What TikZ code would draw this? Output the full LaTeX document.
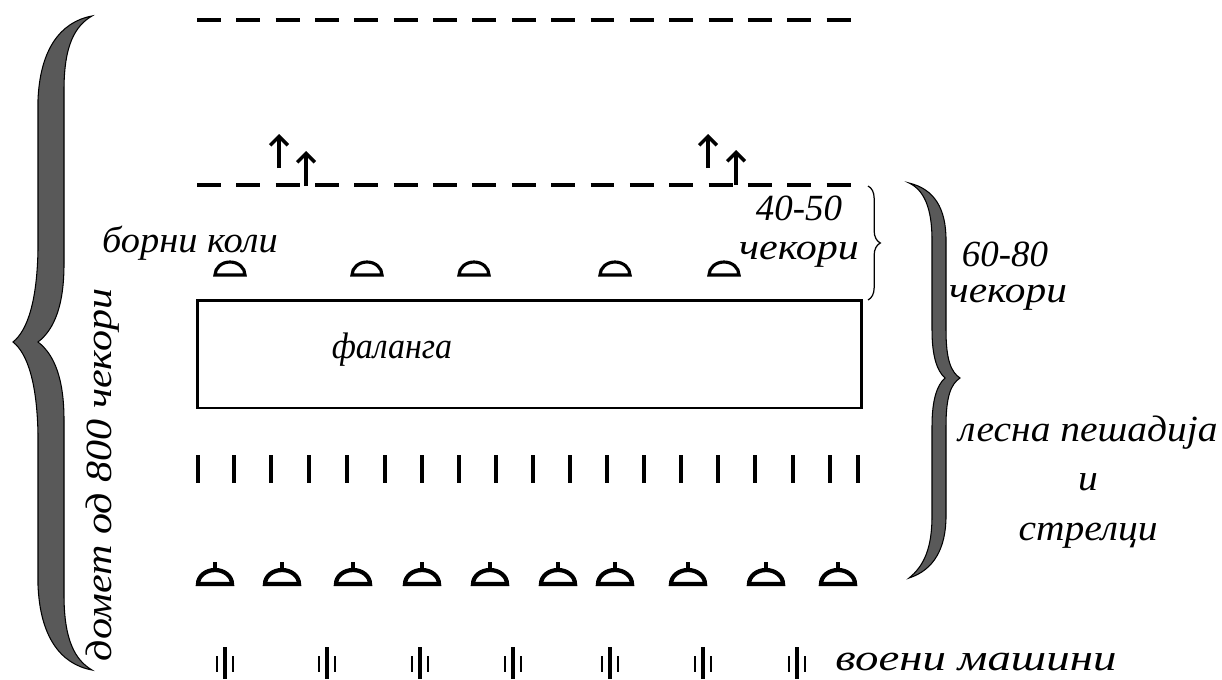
\documentclass[tikz,border=0pt]{standalone}
\usepackage{fontspec}
\setmainfont{Liberation Serif}[Language=Serbian]
\usetikzlibrary{arrows.meta, decorations.pathreplacing}

\begin{document}
\begin{tikzpicture}[x=0.02cm, y=-0.02cm,
  % Texts - italic serif
  txt/.style={font=\fontsize{21}{26}\selectfont\itshape, inner sep=0pt, align=center},
  wide/.style={txt, font=\fontsize{21}{26}\selectfont\itshape\addfontfeature{FakeStretch=#1}},
  % Front lines - heavy dashes
  front/.style={line width=2.3pt, dash pattern=on 13.6pt off 8.8pt},
  % Advance arrows
  advance/.style={-{Straight Barb[length=5pt, width=10pt, line width=2pt]}, line width=1.9pt},
  % Troops
  chariot/.style={line width=1.8pt},
  bigchariot/.style={line width=2.4pt},
  archer/.style={line width=2.3pt},
  machine/.style={line width=2.2pt},
  % Braces - filled, grey
  bigbrace/.style={fill=black!65, draw=black, line width=0.6pt},
  smallbrace/.style={decorate, decoration={brace, amplitude=7pt}, line width=0.7pt}
]
\useasboundingbox (0,0) rectangle (1222,679);

% === FRONT LINES ===
\draw[front] (197,20) -- (856,20);
\draw[front] (197,185) -- (862,185);

% === ARROWS ===
\coordinate (l1b) at (279,168); \coordinate (l1t) at (279,134);
\coordinate (l2b) at (306,186); \coordinate (l2t) at (306,151);
\coordinate (r1b) at (708,168); \coordinate (r1t) at (708,134);
\coordinate (r2b) at (736,185); \coordinate (r2t) at (736,150);
\draw[advance] (l1b) -- (l1t);
\draw[advance] (l2b) -- (l2t);
\draw[advance] (r1b) -- (r1t);
\draw[advance] (r2b) -- (r2t);

% === CHARIOTS (front) ===
\node[wide=1.04] (chariots) at (190,243) {борни коли};
\foreach \x in {230,367,474,615,724}
  \draw[chariot] (\x-15,275) arc[start angle=180, end angle=360, x radius=15, y radius=13] -- cycle;

% 40-50 steps
\node[txt] (d4050) at (799,208) {40-50};
\node[wide=1.14] (d4050b) at (799,255) {чекори};
\draw[smallbrace] (868,186) -- (868,300);

% === PHALANX ===
\node[draw, line width=1.7pt, inner sep=0pt, minimum width=13.3cm, minimum height=2.16cm] (phalanxbox) at (529.5,354) {};
\node[wide=0.92] (phalanx) at (392,350) {фаланга};

% === LIGHT INFANTRY ===
\foreach \x in {198,234,271,309,347,385,422,459,496,533,570,607,644,681,718,755,793,830,858}
  \draw[archer] (\x,455) -- (\x,483);

% === CHARIOTS (rear) ===
\foreach \x in {215,282,353,422,490,558,615,688,766,838} {
  \draw[bigchariot] (\x-17,584) arc[start angle=180, end angle=360, x radius=17, y radius=14] -- cycle;
  \draw[bigchariot] (\x,570) -- (\x,562);
}

% === MACHINES ===
\foreach \x in {225,327,420,513,610,703,797} {
  \draw[machine] (\x,647) -- (\x,679);
  \draw[machine, line width=1.6pt] (\x-8,656) -- (\x-8,672);
  \draw[machine, line width=1.6pt] (\x+8,656) -- (\x+8,672);
}
\node[wide=1.27, anchor=west] (machines) at (835,662) {воени машини};

% === RIGHT BRACE ===
\fill[bigbrace] (909,183) .. controls (934,189) and (946,208) .. (946,240) -- (946,330)
  .. controls (946,360) and (951,372) .. (960,378)
  .. controls (951,384) and (946,396) .. (946,426) -- (946,516)
  .. controls (946,548) and (934,570) .. (909,578)
  .. controls (924,566) and (932,548) .. (932,516) -- (932,426)
  .. controls (932,400) and (937,385) .. (945,378)
  .. controls (937,371) and (932,356) .. (932,330) -- (932,240)
  .. controls (932,208) and (924,190) .. (909,183) -- cycle;
\node[txt] (d6080) at (1005,254) {60-80};
\node[wide=1.12] (d6080b) at (1008,298) {чекори};
\node[wide=1.07] (infantry) at (1088,482) {лесна пешадија\\[2pt]и\\[2pt]стрелци};

% === LEFT BRACE ===
\fill[bigbrace] (92,16) .. controls (60,22) and (40,50) .. (38,100) -- (38,250)
  .. controls (37,300) and (28,330) .. (13,342)
  .. controls (28,354) and (37,384) .. (38,434) -- (38,585)
  .. controls (40,636) and (60,664) .. (92,670)
  .. controls (75,660) and (64,640) .. (64,595) -- (64,420)
  .. controls (64,380) and (55,355) .. (38,342)
  .. controls (55,329) and (64,304) .. (64,264) -- (64,90)
  .. controls (64,45) and (75,26) .. (92,16) -- cycle;
\node[wide=1.14, rotate=90] (range) at (103,475) {домет од 800 чекори};

\end{tikzpicture}
\end{document}
